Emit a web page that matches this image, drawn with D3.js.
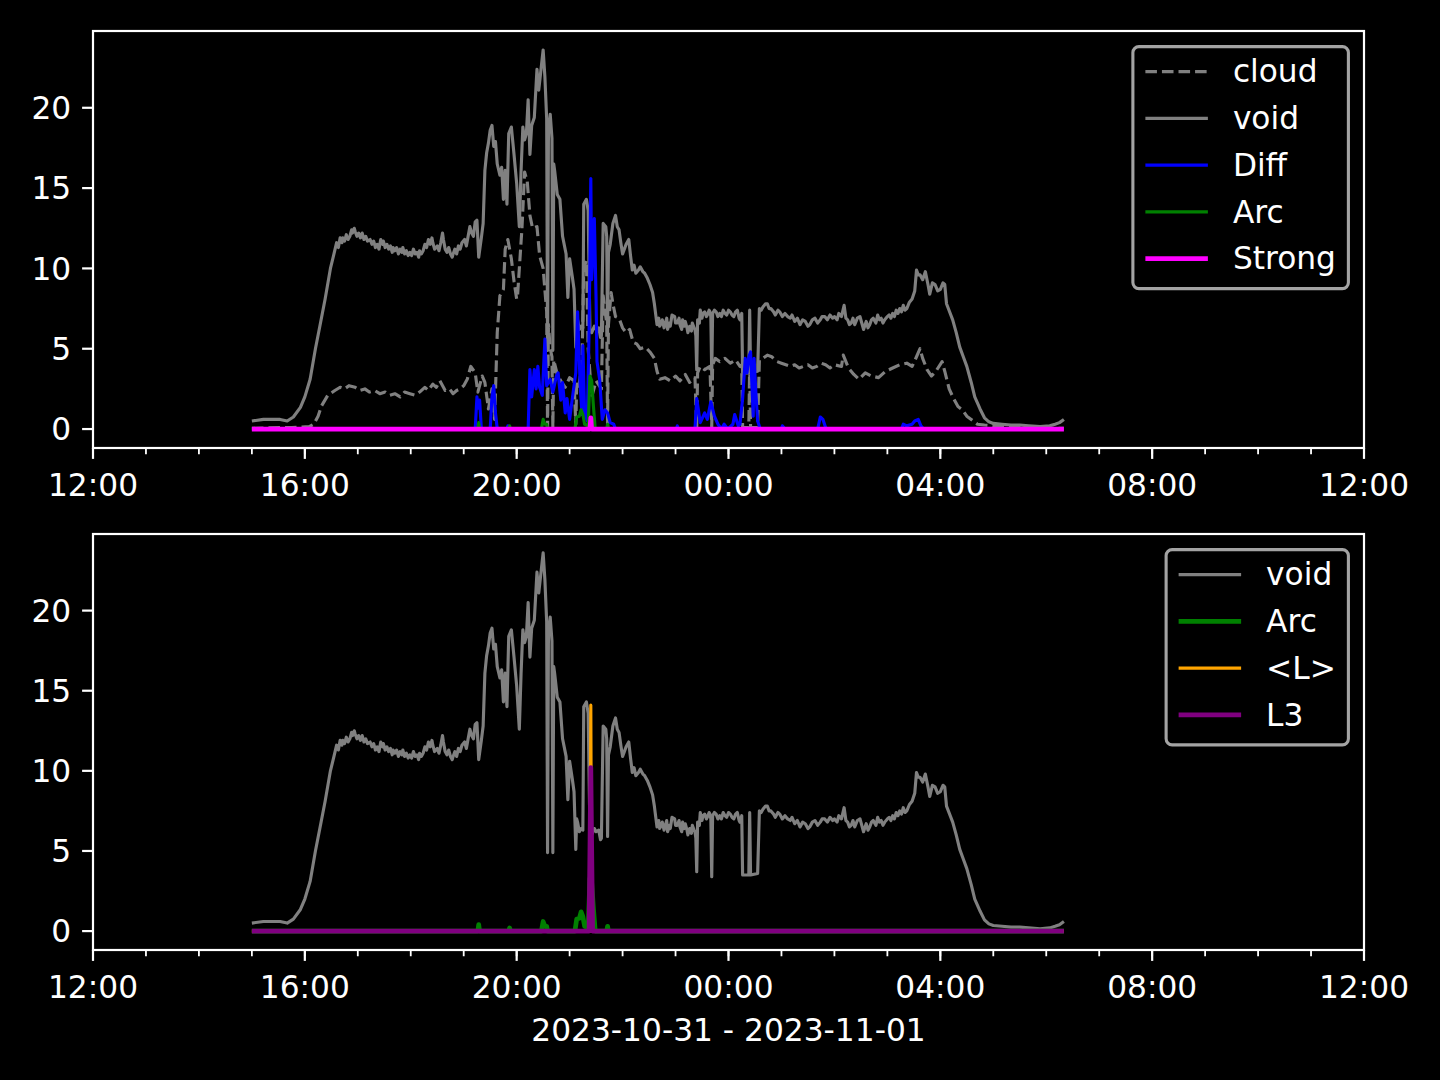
<!DOCTYPE html>
<html><head><meta charset="utf-8">
<script src="https://cdn.jsdelivr.net/npm/d3@7"></script>
<style>html,body{margin:0;padding:0;background:#000;} svg{display:block;}</style>
</head><body>
<script>
// ---------------- DATA (time "HH:MM" from 2023-10-31 12:00 to 2023-11-01 12:00, value) ----------------
const voidSeries = [
["15:00",0.5],["15:13",0.6],["15:32",0.6],["15:40",0.5],["15:47",0.75],["15:55",1.35],["16:00",2.0],["16:06",3.1],
["16:12",5.0],["16:17",6.4],["16:23",8.1],["16:29",10.0],["16:33",10.9],["16:36",11.6],["16:38",11.3],["16:40",11.9],
["16:42",11.6],["16:43",11.9],["16:45",11.7],["16:47",12.1],["16:49",11.8],["16:51",12.0],["16:53",12.4],["16:54",12.2],
["16:56",12.5],["16:57",12.3],["16:59",12.0],["17:01",12.2],["17:03",11.9],["17:05",12.2],["17:07",11.8],["17:09",12.0],
["17:11",11.7],["17:14",11.8],["17:16",11.5],["17:18",11.7],["17:20",11.3],["17:22",11.5],["17:24",11.2],["17:26",11.8],
["17:28",11.5],["17:29",11.7],["17:31",11.3],["17:33",11.5],["17:35",11.2],["17:37",11.4],["17:39",11.0],["17:40",11.3],
["17:42",11.1],["17:44",11.3],["17:46",10.9],["17:48",11.2],["17:50",11.0],["17:51",11.3],["17:53",10.9],["17:55",11.1],
["17:57",10.8],["17:59",11.0],["18:01",10.8],["18:03",11.2],["18:05",10.9],["18:07",11.0],["18:09",10.7],["18:10",11.1],
["18:12",10.9],["18:14",11.1],["18:16",11.5],["18:18",11.3],["18:20",11.8],["18:22",11.5],["18:24",11.9],["18:25",11.6],
["18:27",11.2],["18:30",11.4],["18:32",11.1],["18:34",11.6],["18:36",12.2],["18:37",11.8],["18:39",11.2],["18:41",11.0],
["18:43",11.3],["18:45",10.9],["18:47",10.7],["18:48",10.9],["18:50",11.2],["18:52",10.9],["18:54",11.4],["18:56",11.2],
["18:58",11.6],["19:01",11.8],["19:03",11.4],["19:04",11.7],["19:07",12.6],["19:09",12.2],["19:11",12.0],["19:13",12.9],
["19:15",13.0],["19:17",10.7],["19:20",11.9],["19:22",12.8],["19:24",16.1],["19:26",17.2],["19:28",17.8],["19:30",18.6],
["19:32",18.9],["19:34",17.6],["19:36",17.9],["19:38",16.5],["19:41",15.8],["19:43",16.3],["19:45",14.3],["19:47",16.1],
["19:49",14.0],["19:51",18.4],["19:54",18.8],["19:57",17.1],["20:00",15.3],["20:03",12.6],["20:05",16.1],["20:07",18.8],
["20:09",18.0],["20:11",18.4],["20:13",20.5],["20:15",17.1],["20:17",18.9],["20:20",19.4],["20:23",22.4],["20:25",21.1],
["20:28",22.6],["20:30",23.6],["20:32",21.9],["20:34",19.3],["20:35",4.9],["20:36",18.5],["20:38",19.6],["20:40",18.1],
["20:41",4.9],["20:42",16.5],["20:43",16.1],["20:46",14.6],["20:49",14.3],["20:52",12.0],["20:56",10.9],["20:58",8.2],
["21:00",10.6],["21:03",9.5],["21:05",8.7],["21:07",5.1],["21:08",7.0],["21:09",6.8],["21:11",6.2],["21:13",6.4],
["21:15",6.3],["21:16",14.0],["21:19",14.3],["21:21",13.6],["21:23",6.2],["21:25",6.0],["21:28",6.4],["21:30",6.2],
["21:33",6.3],["21:35",5.7],["21:36",5.8],["21:38",12.8],["21:41",12.6],["21:42",12.0],["21:43",5.9],["21:44",11.0],
["21:46",11.5],["21:49",12.8],["21:52",13.3],["21:54",12.6],["21:56",12.4],["21:58",11.6],["22:00",10.9],["22:02",11.2],
["22:04",11.5],["22:07",11.8],["22:09",10.8],["22:11",9.9],["22:13",10.2],["22:15",9.7],["22:18",9.9],["22:20",10.1],
["22:23",9.8],["22:25",9.7],["22:28",9.4],["22:31",9.0],["22:34",8.5],["22:36",7.8],["22:39",6.5],["22:41",6.9],
["22:42",6.4],["22:44",6.6],["22:45",6.8],["22:47",6.3],["22:48",6.5],["22:50",6.9],["22:51",6.2],["22:53",6.6],
["22:54",6.4],["22:56",7.1],["22:59",7.0],["23:00",6.6],["23:02",6.6],["23:04",6.9],["23:05",6.5],["23:07",6.2],
["23:08",6.8],["23:10",6.4],["23:11",6.7],["23:13",6.3],["23:14",6.0],["23:16",6.4],["23:18",6.1],["23:19",6.6],
["23:21",6.3],["23:22",6.2],["23:23",5.8],["23:24",3.7],["23:25",6.8],["23:27",6.6],["23:28",7.4],["23:30",6.9],
["23:31",7.2],["23:33",7.3],["23:35",7.0],["23:36",7.1],["23:38",7.4],["23:39",7.3],["23:40",7.0],["23:41",3.4],
["23:42",7.2],["23:44",7.4],["23:46",7.3],["23:48",7.0],["23:50",7.2],["23:52",7.0],["23:54",7.4],["23:56",7.2],
["23:58",7.1],["00:00",7.4],["00:02",7.3],["00:04",7.1],["00:06",7.0],["00:08",7.3],["00:10",7.4],["00:12",6.9],
["00:13",6.8],["00:15",7.2],["00:16",3.5],["00:23",3.5],["00:24",7.4],["00:25",3.5],["00:33",3.6],["00:35",7.5],
["00:37",7.4],["00:39",7.6],["00:42",7.8],["00:44",7.8],["00:46",7.5],["00:48",7.5],["00:51",7.3],["00:53",7.1],
["00:56",7.4],["00:58",7.3],["01:01",7.0],["01:04",7.2],["01:07",7.0],["01:10",6.9],["01:12",7.1],["01:15",6.7],
["01:18",6.9],["01:21",6.5],["01:24",6.8],["01:27",6.7],["01:30",6.4],["01:32",6.5],["01:35",6.8],["01:38",6.9],
["01:41",6.6],["01:44",6.8],["01:46",7.0],["01:49",7.0],["01:52",6.8],["01:55",7.1],["01:58",6.9],["02:00",7.0],
["02:03",6.8],["02:05",7.2],["02:08",7.0],["02:11",7.7],["02:13",6.9],["02:15",6.8],["02:17",6.5],["02:19",6.6],
["02:21",6.9],["02:23",6.5],["02:26",6.9],["02:29",7.0],["02:31",6.6],["02:33",6.2],["02:36",6.7],["02:38",6.3],
["02:40",6.5],["02:42",6.8],["02:44",6.9],["02:47",6.6],["02:49",7.1],["02:51",6.8],["02:53",6.9],["02:55",6.6],
["02:57",6.8],["03:00",7.0],["03:02",7.1],["03:04",6.9],["03:06",7.2],["03:08",7.0],["03:10",7.4],["03:12",7.2],
["03:14",7.5],["03:16",7.3],["03:18",7.7],["03:20",7.4],["03:22",7.5],["03:25",7.9],["03:28",8.1],["03:31",8.6],
["03:33",9.9],["03:35",9.6],["03:37",9.6],["03:40",9.3],["03:43",9.8],["03:46",9.0],["03:48",8.4],["03:51",9.1],
["03:54",9.0],["03:57",8.6],["04:00",8.7],["04:03",9.1],["04:05",9.0],["04:07",7.8],["04:14",6.8],["04:18",6.0],
["04:22",5.1],["04:26",4.5],["04:30",3.9],["04:35",2.9],["04:39",2.0],["04:45",1.25],["04:50",0.7],["04:55",0.45],
["05:00",0.35],["05:10",0.3],["05:20",0.25],["05:30",0.25],["05:40",0.2],["05:53",0.15],["06:04",0.2],["06:10",0.3],
["06:15",0.4],["06:20",0.6]
];
const cloudSeries = [
["15:00",0.05],["15:45",0.1],["16:05",0.15],["16:10",0.3],["16:15",0.8],["16:19",1.45],["16:26",2.1],["16:34",2.4],
["16:40",2.6],["16:45",2.5],["16:50",2.7],["16:57",2.6],["17:02",2.4],["17:08",2.5],["17:13",2.3],["17:19",2.4],
["17:25",2.2],["17:31",2.3],["17:36",2.1],["17:42",2.2],["17:48",2.0],["17:53",2.3],["17:59",2.2],["18:05",2.1],
["18:10",2.3],["18:16",2.6],["18:20",2.4],["18:25",2.8],["18:29",2.6],["18:33",3.0],["18:39",2.4],["18:44",2.5],
["18:48",2.2],["18:52",2.4],["18:56",2.5],["19:00",2.7],["19:04",3.1],["19:08",3.9],["19:13",3.5],["19:16",2.3],
["19:21",3.3],["19:24",2.9],["19:28",1.25],["19:32",2.5],["19:35",0.6],["19:38",6.0],["19:41",8.3],["19:45",8.7],
["19:47",11.2],["19:50",11.8],["19:54",10.6],["19:57",9.2],["20:00",8.1],["20:01",8.3],["20:06",12.5],["20:09",16.0],
["20:12",15.4],["20:15",13.3],["20:18",12.5],["20:23",12.6],["20:26",10.8],["20:30",10.0],["20:34",7.3],["20:35",0.1],
["20:36",6.5],["20:38",5.0],["20:40",4.5],["20:41",0.1],["20:42",4.3],["20:46",3.4],["20:50",3.0],["20:55",2.6],
["21:00",3.2],["21:05",3.0],["21:07",0.3],["21:08",2.8],["21:10",2.5],["21:14",4.0],["21:16",10.0],["21:19",10.5],
["21:21",5.0],["21:25",2.0],["21:30",3.0],["21:36",2.5],["21:38",8.3],["21:41",7.0],["21:42",6.6],["21:43",0.2],
["21:44",6.5],["21:47",8.5],["21:49",7.8],["21:52",7.0],["21:56",6.9],["22:00",6.3],["22:04",6.0],["22:08",6.2],
["22:12",5.4],["22:16",5.3],["22:20",5.0],["22:26",5.1],["22:31",4.8],["22:36",4.4],["22:39",3.6],["22:42",3.1],
["22:48",3.2],["22:54",3.0],["23:00",3.3],["23:05",3.0],["23:11",3.4],["23:16",2.9],["23:22",3.2],["23:24",0.1],
["23:25",3.5],["23:28",3.9],["23:33",3.7],["23:39",3.9],["23:41",0.1],["23:42",4.0],["23:45",4.4],["23:50",4.2],
["23:56",4.4],["00:02",4.1],["00:08",4.3],["00:13",3.9],["00:15",4.0],["00:16",0.1],["00:23",0.1],["00:24",4.0],
["00:25",0.1],["00:33",0.1],["00:35",4.3],["00:39",4.4],["00:44",4.6],["00:49",4.5],["00:55",4.2],["01:00",4.1],
["01:05",4.0],["01:10",3.9],["01:15",4.0],["01:20",3.8],["01:25",3.9],["01:30",4.0],["01:35",3.8],["01:40",3.9],
["01:45",4.1],["01:50",4.0],["01:55",3.8],["02:00",4.0],["02:08",3.9],["02:10",4.6],["02:16",3.8],["02:22",3.4],
["02:28",3.1],["02:35",3.5],["02:42",3.3],["02:50",3.2],["02:58",3.6],["03:06",3.8],["03:14",4.0],["03:22",4.1],
["03:28",3.9],["03:33",4.5],["03:37",5.0],["03:40",4.4],["03:45",3.7],["03:50",3.3],["03:55",3.6],["04:02",4.2],
["04:05",3.6],["04:10",2.5],["04:15",1.9],["04:20",1.4],["04:25",1.2],["04:30",0.8],["04:35",0.6],["04:42",0.3],
["04:50",0.25],["05:00",0.2],["05:30",0.1],["06:00",0.05],["06:20",0.05]
];
const diffSeries = [
["15:00",0],["19:13",0],["19:15",2.0],["19:16",1.3],["19:18",1.8],["19:20",0],["19:30",0],["19:32",2.0],["19:34",2.7],
["19:36",1.0],["19:38",0],["19:49",0],["19:50",0.2],["19:51",0],["20:13",0],["20:15",3.7],["20:17",2.0],["20:20",3.7],
["20:22",2.5],["20:24",3.9],["20:26",2.6],["20:29",2.1],["20:32",5.6],["20:34",2.7],["20:38",3.1],["20:41",2.3],
["20:45",3.3],["20:47",3.5],["20:50",1.8],["20:52",2.9],["20:55",1.0],["20:57",1.9],["21:00",0.6],["21:04",2.3],
["21:07",3.5],["21:09",7.3],["21:12",2.7],["21:14",0.9],["21:15",5.2],["21:17",1.0],["21:20",0.5],["21:22",6.0],
["21:24",15.6],["21:25",9.3],["21:28",13.1],["21:30",8.0],["21:31",4.2],["21:34",3.1],["21:37",0.6],["21:40",1.2],
["21:43",1.0],["21:46",0.4],["21:50",0.3],["21:52",0],["23:01",0],["23:02",0.2],["23:03",0],["23:22",0],["23:24",1.9],
["23:28",0.4],["23:33",1.0],["23:36",0.6],["23:40",1.7],["23:44",0.8],["23:48",0.3],["23:52",0],["23:55",0.3],["23:59",0],
["00:05",0.3],["00:07",0.9],["00:11",0.2],["00:13",0.3],["00:16",1.9],["00:19",4.4],["00:21",3.5],["00:23",4.5],
["00:25",4.8],["00:28",0.8],["00:29",4.4],["00:31",2.3],["00:33",0.5],["00:36",0],["01:00",0],["01:01",0.2],["01:04",0],
["01:41",0],["01:44",0.75],["01:47",0.6],["01:50",0.1],["01:52",0],["03:16",0],["03:18",0.3],["03:22",0.2],["03:28",0.3],
["03:31",0.5],["03:35",0.6],["03:38",0.2],["03:41",0],["06:20",0]
];
const arcSeries = [
["15:00",0],["19:16",0],["19:17",0.4],["19:18",0],["19:51",0],["19:52",0.2],["19:53",0],["20:28",0],["20:30",0.6],
["20:32",0.3],["20:34",0.3],["20:35",0],["21:06",0],["21:08",0.75],["21:11",0.8],["21:13",1.2],["21:15",0.9],
["21:17",0.3],["21:21",0.2],["21:23",3.3],["21:25",3.0],["21:27",1.4],["21:29",0],["21:42",0],["21:43",0.3],
["21:44",0],["06:20",0]
];
const strongSeries = [["15:00",0],["21:23",0],["21:24",0.7],["21:25",0],["06:20",0]];
const lAvgSeries   = [["15:00",0],["21:23",0],["21:24",14.1],["21:25",0],["06:20",0]];
const l3Series     = [["15:00",0],["21:22",0],["21:24",10.2],["21:26",0],["06:20",0]];

const yTickValues = [0, 5, 10, 15, 20];
const xLabel = "2023-10-31 - 2023-11-01";

// ---------------- RENDERING ----------------
const W = 1440, H = 1080, FS = 31.25, FONT = "DejaVu Sans, sans-serif";
const L = 93, R = 1364;
const svg = d3.select("body").append("svg").attr("width", W).attr("height", H);
svg.append("rect").attr("width", W).attr("height", H).attr("fill", "#000");

function toDate(hm) {
  const [h, m] = hm.split(":").map(Number);
  return h >= 12 ? new Date(2023, 9, 31, h, m) : new Date(2023, 10, 1, h, m);
}
const pts = arr => arr.map(([t, v]) => ({ t: toDate(t), v }));

const x = d3.scaleTime().domain([new Date(2023, 9, 31, 12, 0), new Date(2023, 10, 1, 12, 0)]).range([L, R]);

const allVals = [voidSeries, cloudSeries, diffSeries, arcSeries, strongSeries, lAvgSeries, l3Series].flat().map(d => d[1]);
const vmin = d3.min(allVals), vmax = d3.max(allVals), pad = (vmax - vmin) * 0.05;
const yDomain = [vmin - pad, vmax + pad];

const panels = [
  { top: 31, bottom: 448, series: [
    { name: "cloud", data: cloudSeries, color: "#808080", width: 3.125, dash: "11.56,5" },
    { name: "void", data: voidSeries, color: "#808080", width: 3.125 },
    { name: "Diff", data: diffSeries, color: "#0000ff", width: 3.125 },
    { name: "Arc", data: arcSeries, color: "#008000", width: 3.125 },
    { name: "Strong", data: strongSeries, color: "#ff00ff", width: 4.69 }
  ]},
  { top: 534, bottom: 950, series: [
    { name: "void", data: voidSeries, color: "#808080", width: 3.125 },
    { name: "Arc", data: arcSeries, color: "#008000", width: 4.69 },
    { name: "<L>", data: lAvgSeries, color: "#ffa500", width: 3.125 },
    { name: "L3", data: l3Series, color: "#800080", width: 4.69 }
  ]}
];

panels.forEach((p, pi) => {
  const y = d3.scaleLinear().domain(yDomain).range([p.bottom, p.top]);
  const g = svg.append("g");
  const clipId = "clip" + pi;
  g.append("clipPath").attr("id", clipId).append("rect")
    .attr("x", L).attr("y", p.top).attr("width", R - L).attr("height", p.bottom - p.top);

  const line = d3.line().x(d => x(d.t)).y(d => y(d.v));
  const lg = g.append("g").attr("clip-path", `url(#${clipId})`);
  p.series.forEach(s => {
    lg.append("path").datum(pts(s.data))
      .attr("d", line).attr("fill", "none")
      .attr("stroke", s.color).attr("stroke-width", s.width)
      .attr("stroke-linejoin", "round")
      .attr("stroke-dasharray", s.dash || null);
  });

  // spines
  g.append("rect").attr("x", L).attr("y", p.top).attr("width", R - L).attr("height", p.bottom - p.top)
    .attr("fill", "none").attr("stroke", "#fff").attr("stroke-width", 2.2);

  // y ticks
  yTickValues.forEach(v => {
    g.append("line").attr("x1", L).attr("x2", L - 10.9).attr("y1", y(v)).attr("y2", y(v))
      .attr("stroke", "#fff").attr("stroke-width", 2.2);
    g.append("text").attr("x", L - 21.8).attr("y", y(v) + 11.4)
      .attr("text-anchor", "end").attr("fill", "#fff")
      .style("font-family", FONT).style("font-size", FS + "px").text(v);
  });

  // x ticks
  const minor = x.ticks(d3.timeHour.every(1));
  minor.forEach(t => {
    g.append("line").attr("x1", x(t)).attr("x2", x(t)).attr("y1", p.bottom).attr("y2", p.bottom + 6.25)
      .attr("stroke", "#fff").attr("stroke-width", 1.8);
  });
  const major = x.ticks(d3.timeHour.every(4));
  const fmt = d3.timeFormat("%H:%M");
  major.forEach(t => {
    g.append("line").attr("x1", x(t)).attr("x2", x(t)).attr("y1", p.bottom).attr("y2", p.bottom + 10.9)
      .attr("stroke", "#fff").attr("stroke-width", 2.2);
    g.append("text").attr("x", x(t)).attr("y", p.bottom + 48)
      .attr("text-anchor", "middle").attr("fill", "#fff")
      .style("font-family", FONT).style("font-size", FS + "px").text(fmt(t));
  });

  // legend
  const lgG = g.append("g");
  const frameRight = R - 15.6;
  const legTop = p.top + 15.6;
  const rowH = 46.75;
  const texts = p.series.map((s, i) => lgG.append("text")
      .attr("y", legTop + 25 + i * rowH + 10.8).attr("fill", "#fff")
      .style("font-family", FONT).style("font-size", FS + "px").text(s.name));
  const maxW = d3.max(texts, t => t.node().getComputedTextLength());
  const textX = frameRight - 12.5 - maxW;
  const h0 = textX - 25 - 62.5, h1 = textX - 25;
  const frameLeft = h0 - 12.5;
  const frameH = (p.series.length - 1) * rowH + 55;
  lgG.insert("rect", ":first-child").attr("x", frameLeft).attr("y", legTop)
    .attr("width", frameRight - frameLeft).attr("height", frameH).attr("rx", 6)
    .attr("fill", "#000").attr("fill-opacity", 0.8)
    .attr("stroke", "#cccccc").attr("stroke-opacity", 0.8).attr("stroke-width", 3.1);
  texts.forEach(t => t.attr("x", textX));
  p.series.forEach((s, i) => {
    const yy = legTop + 25 + i * rowH;
    lgG.append("line").attr("x1", h0).attr("x2", h1).attr("y1", yy).attr("y2", yy)
      .attr("stroke", s.color).attr("stroke-width", s.width)
      .attr("stroke-dasharray", s.dash || null);
  });
});

svg.append("text").attr("x", (L + R) / 2).attr("y", 1041)
  .attr("text-anchor", "middle").attr("fill", "#fff")
  .style("font-family", FONT).style("font-size", FS + "px").text(xLabel);
</script>
</body></html>
